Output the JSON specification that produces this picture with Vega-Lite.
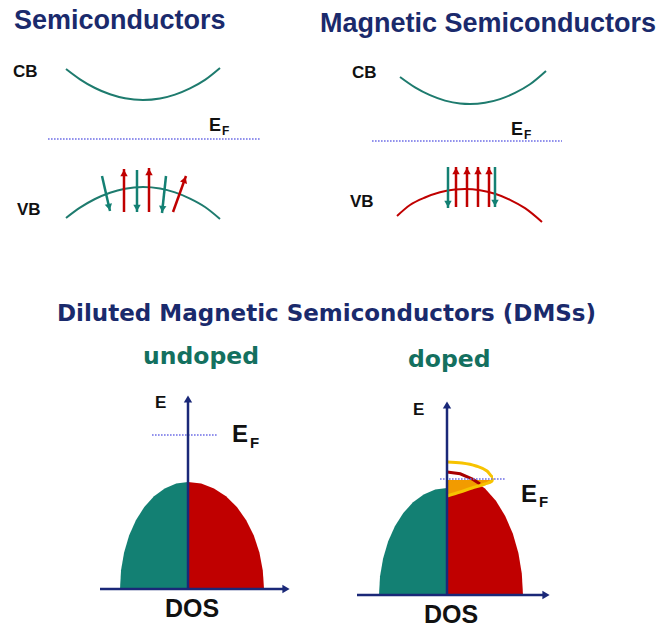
{
  "$schema": "https://vega.github.io/schema/vega-lite/v6.json",
  "width": 656,
  "height": 627,
  "autosize": "none",
  "padding": 0,
  "background": "white",
  "config": {"view": {"stroke": null}, "font": "Liberation Sans"},
  "datasets": {
    "curves": [
      {"curve": "cb1", "spin": "both", "x": 66, "y": 69}, {"curve": "cb1", "spin": "both", "x": 80, "y": 79.3}, {"curve": "cb1", "spin": "both", "x": 95, "y": 88}, {"curve": "cb1", "spin": "both", "x": 110, "y": 94.3}, {"curve": "cb1", "spin": "both", "x": 125, "y": 98.3}, {"curve": "cb1", "spin": "both", "x": 143, "y": 100}, {"curve": "cb1", "spin": "both", "x": 160, "y": 98.5}, {"curve": "cb1", "spin": "both", "x": 175, "y": 94.6}, {"curve": "cb1", "spin": "both", "x": 190, "y": 88.4}, {"curve": "cb1", "spin": "both", "x": 205, "y": 79.9}, {"curve": "cb1", "spin": "both", "x": 220, "y": 68},
      {"curve": "vb1", "spin": "both", "x": 66, "y": 218}, {"curve": "vb1", "spin": "both", "x": 80, "y": 207.7}, {"curve": "vb1", "spin": "both", "x": 95, "y": 199}, {"curve": "vb1", "spin": "both", "x": 110, "y": 192.7}, {"curve": "vb1", "spin": "both", "x": 125, "y": 188.7}, {"curve": "vb1", "spin": "both", "x": 143, "y": 187}, {"curve": "vb1", "spin": "both", "x": 160, "y": 188.5}, {"curve": "vb1", "spin": "both", "x": 175, "y": 192.4}, {"curve": "vb1", "spin": "both", "x": 190, "y": 198.6}, {"curve": "vb1", "spin": "both", "x": 205, "y": 207}, {"curve": "vb1", "spin": "both", "x": 220, "y": 219},
      {"curve": "cb2", "spin": "both", "x": 400, "y": 77}, {"curve": "cb2", "spin": "both", "x": 415, "y": 87.4}, {"curve": "cb2", "spin": "both", "x": 430, "y": 95.2}, {"curve": "cb2", "spin": "both", "x": 445, "y": 100.6}, {"curve": "cb2", "spin": "both", "x": 460, "y": 103.5}, {"curve": "cb2", "spin": "both", "x": 470, "y": 104}, {"curve": "cb2", "spin": "both", "x": 485, "y": 102.8}, {"curve": "cb2", "spin": "both", "x": 500, "y": 99.1}, {"curve": "cb2", "spin": "both", "x": 515, "y": 92.9}, {"curve": "cb2", "spin": "both", "x": 530, "y": 84.3}, {"curve": "cb2", "spin": "both", "x": 546, "y": 71},
      {"curve": "vb2", "spin": "up", "x": 397, "y": 216}, {"curve": "vb2", "spin": "up", "x": 410, "y": 205}, {"curve": "vb2", "spin": "up", "x": 425, "y": 197.5}, {"curve": "vb2", "spin": "up", "x": 440, "y": 192.3}, {"curve": "vb2", "spin": "up", "x": 455, "y": 189.5}, {"curve": "vb2", "spin": "up", "x": 465, "y": 189}, {"curve": "vb2", "spin": "up", "x": 480, "y": 190.2}, {"curve": "vb2", "spin": "up", "x": 495, "y": 193.8}, {"curve": "vb2", "spin": "up", "x": 510, "y": 199.8}, {"curve": "vb2", "spin": "up", "x": 525, "y": 208.2}, {"curve": "vb2", "spin": "up", "x": 542, "y": 222}
    ],
    "arrows": [
      {"spin": "down", "x": 102, "y": 176, "x2": 110, "y2": 211, "hx": 109.1, "hy": 207.1, "a": 167},
      {"spin": "up", "x": 124, "y": 212, "x2": 124, "y2": 169, "hx": 124, "hy": 173, "a": 0},
      {"spin": "down", "x": 137, "y": 170, "x2": 137, "y2": 212, "hx": 137, "hy": 208, "a": 180},
      {"spin": "up", "x": 149, "y": 212, "x2": 149, "y2": 168, "hx": 149, "hy": 172, "a": 0},
      {"spin": "down", "x": 166, "y": 176, "x2": 162, "y2": 213, "hx": 162.4, "hy": 209, "a": 186},
      {"spin": "up", "x": 173, "y": 212, "x2": 186, "y2": 176, "hx": 184.6, "hy": 179.8, "a": 20},
      {"spin": "down", "x": 448, "y": 167, "x2": 448, "y2": 208, "hx": 448, "hy": 204, "a": 180},
      {"spin": "up", "x": 456, "y": 207, "x2": 456, "y2": 167, "hx": 456, "hy": 171, "a": 0},
      {"spin": "up", "x": 467, "y": 207, "x2": 467, "y2": 167, "hx": 467, "hy": 171, "a": 0},
      {"spin": "up", "x": 478, "y": 207, "x2": 478, "y2": 167, "hx": 478, "hy": 171, "a": 0},
      {"spin": "up", "x": 489, "y": 207, "x2": 489, "y2": 167, "hx": 489, "hy": 171, "a": 0},
      {"spin": "down", "x": 495, "y": 167, "x2": 495, "y2": 207, "hx": 495, "hy": 203, "a": 180}
    ],
    "domes": [
      {"dome": "L-down", "spin": "down", "x": 120, "y": 589, "base": 589}, {"dome": "L-down", "spin": "down", "x": 121, "y": 570.4, "base": 589}, {"dome": "L-down", "spin": "down", "x": 124.1, "y": 552.4, "base": 589}, {"dome": "L-down", "spin": "down", "x": 129.1, "y": 535.5, "base": 589}, {"dome": "L-down", "spin": "down", "x": 135.9, "y": 520.2, "base": 589}, {"dome": "L-down", "spin": "down", "x": 144.3, "y": 507, "base": 589}, {"dome": "L-down", "spin": "down", "x": 154, "y": 496.3, "base": 589}, {"dome": "L-down", "spin": "down", "x": 164.7, "y": 488.4, "base": 589}, {"dome": "L-down", "spin": "down", "x": 176.2, "y": 483.6, "base": 589}, {"dome": "L-down", "spin": "down", "x": 188, "y": 482, "base": 589},
      {"dome": "L-up", "spin": "up", "x": 188, "y": 482, "base": 589}, {"dome": "L-up", "spin": "up", "x": 201.2, "y": 483.6, "base": 589}, {"dome": "L-up", "spin": "up", "x": 214, "y": 488.4, "base": 589}, {"dome": "L-up", "spin": "up", "x": 226, "y": 496.3, "base": 589}, {"dome": "L-up", "spin": "up", "x": 236.9, "y": 507, "base": 589}, {"dome": "L-up", "spin": "up", "x": 246.2, "y": 520.2, "base": 589}, {"dome": "L-up", "spin": "up", "x": 253.8, "y": 535.5, "base": 589}, {"dome": "L-up", "spin": "up", "x": 259.4, "y": 552.4, "base": 589}, {"dome": "L-up", "spin": "up", "x": 262.8, "y": 570.4, "base": 589}, {"dome": "L-up", "spin": "up", "x": 264, "y": 589, "base": 589},
      {"dome": "R-down", "spin": "down", "x": 379, "y": 595, "base": 595}, {"dome": "R-down", "spin": "down", "x": 380, "y": 576.4, "base": 595}, {"dome": "R-down", "spin": "down", "x": 383.1, "y": 558.4, "base": 595}, {"dome": "R-down", "spin": "down", "x": 388.1, "y": 541.5, "base": 595}, {"dome": "R-down", "spin": "down", "x": 394.9, "y": 526.2, "base": 595}, {"dome": "R-down", "spin": "down", "x": 403.3, "y": 513, "base": 595}, {"dome": "R-down", "spin": "down", "x": 413, "y": 502.3, "base": 595}, {"dome": "R-down", "spin": "down", "x": 423.7, "y": 494.4, "base": 595}, {"dome": "R-down", "spin": "down", "x": 435.2, "y": 489.6, "base": 595}, {"dome": "R-down", "spin": "down", "x": 447, "y": 488, "base": 595},
      {"dome": "R-up", "spin": "up", "x": 447, "y": 480, "base": 595}, {"dome": "R-up", "spin": "up", "x": 473, "y": 480, "base": 595}, {"dome": "R-up", "spin": "up", "x": 485, "y": 488.5, "base": 595}, {"dome": "R-up", "spin": "up", "x": 495.9, "y": 500.8, "base": 595}, {"dome": "R-up", "spin": "up", "x": 505.2, "y": 515.9, "base": 595}, {"dome": "R-up", "spin": "up", "x": 512.8, "y": 533.5, "base": 595}, {"dome": "R-up", "spin": "up", "x": 518.4, "y": 552.9, "base": 595}, {"dome": "R-up", "spin": "up", "x": 521.8, "y": 573.6, "base": 595}, {"dome": "R-up", "spin": "up", "x": 523, "y": 595, "base": 595}
    ],
    "empty_edge": [
      {"x": 447, "y": 472}, {"x": 460.2, "y": 473.8}, {"x": 473, "y": 479.4}, {"x": 480, "y": 484}
    ],
    "imp_fill": [
      {"x": 447, "y": 496, "ef": 480}, {"x": 460, "y": 492, "ef": 480}, {"x": 472, "y": 488, "ef": 480}, {"x": 485, "y": 484, "ef": 480}, {"x": 491, "y": 480.5, "ef": 480}
    ],
    "imp_edge": [
      {"i": 0, "x": 447, "y": 462}, {"i": 1, "x": 462, "y": 463}, {"i": 2, "x": 476, "y": 466}, {"i": 3, "x": 487, "y": 471}, {"i": 4, "x": 493, "y": 477}, {"i": 5, "x": 492, "y": 481}, {"i": 6, "x": 485, "y": 484}, {"i": 7, "x": 472, "y": 488}, {"i": 8, "x": 460, "y": 492}, {"i": 9, "x": 447, "y": 496}
    ],
    "fermi": [
      {"x": 48, "x2": 260, "y": 139}, {"x": 372, "x2": 562, "y": 141}, {"x": 152, "x2": 217, "y": 435}, {"x": 440, "x2": 506, "y": 479}
    ],
    "axes": [
      {"x": 188, "y": 589, "x2": 188, "y2": 402},
      {"x": 100, "y": 589, "x2": 284, "y2": 589},
      {"x": 447, "y": 595, "x2": 447, "y2": 408},
      {"x": 357, "y": 595, "x2": 544, "y2": 595}
    ],
    "axis_heads": [
      {"x": 188, "y": 399, "a": 0}, {"x": 286, "y": 589, "a": 90}, {"x": 447, "y": 405, "a": 0}, {"x": 546, "y": 595, "a": 90}
    ],
    "titles": [
      {"t": "Semiconductors", "x": 14, "y": 29}, {"t": "Magnetic Semiconductors", "x": 320, "y": 32}
    ],
    "title2": [
      {"t": "Diluted Magnetic Semiconductors (DMSs)", "x": 57, "y": 321}
    ],
    "subtitles": [
      {"t": "undoped", "x": 143, "y": 364}, {"t": "doped", "x": 408, "y": 367}
    ],
    "labels": [
      {"t": "CB", "x": 13, "y": 77}, {"t": "VB", "x": 17, "y": 215}, {"t": "CB", "x": 352, "y": 78}, {"t": "VB", "x": 350, "y": 207},
      {"t": "E", "x": 155, "y": 408}, {"t": "E", "x": 413, "y": 415}
    ],
    "dos": [
      {"t": "DOS", "x": 192, "y": 617}, {"t": "DOS", "x": 451, "y": 623}
    ],
    "ef_big": [{"t": "E", "x": 232, "y": 442}, {"t": "E", "x": 521, "y": 502}],
    "ef_big_sub": [{"t": "F", "x": 250, "y": 448}, {"t": "F", "x": 539, "y": 507}],
    "ef_small": [{"t": "E", "x": 209, "y": 131}, {"t": "E", "x": 511, "y": 135}],
    "ef_small_sub": [{"t": "F", "x": 222, "y": 135}, {"t": "F", "x": 524, "y": 139}]
  },
  "encoding": {
    "x": {"field": "x", "type": "quantitative", "scale": {"domain": [0, 656], "nice": false, "zero": false}, "axis": null},
    "y": {"field": "y", "type": "quantitative", "scale": {"domain": [0, 627], "nice": false, "zero": false, "reverse": true}, "axis": null}
  },
  "layer": [
    {
      "data": {"name": "domes"},
      "mark": {"type": "area", "orient": "vertical", "opacity": 1},
      "encoding": {
        "y2": {"field": "base"},
        "detail": {"field": "dome"},
        "color": {"field": "spin", "type": "nominal", "scale": {"domain": ["up", "down", "both"], "range": ["#c00000", "#138073", "#1e7b6e"]}, "legend": null}
      }
    },
    {
      "data": {"name": "imp_fill"},
      "mark": {"type": "area", "orient": "vertical", "color": "#f29b00"},
      "encoding": {"y2": {"field": "ef"}}
    },
    {
      "data": {"name": "empty_edge"},
      "mark": {"type": "line", "color": "#a80000", "strokeWidth": 3},
      "encoding": {}
    },
    {
      "data": {"name": "imp_edge"},
      "mark": {"type": "line", "color": "#f7c300", "strokeWidth": 3, "interpolate": "monotone"},
      "encoding": {"order": {"field": "i"}}
    },
    {
      "data": {"name": "curves"},
      "mark": {"type": "line", "strokeWidth": 2, "interpolate": "monotone"},
      "encoding": {
        "detail": {"field": "curve"},
        "color": {"field": "spin", "type": "nominal", "legend": null}
      }
    },
    {
      "data": {"name": "arrows"},
      "mark": {"type": "rule", "strokeWidth": 2.5},
      "encoding": {
        "x2": {"field": "x2"}, "y2": {"field": "y2"},
        "color": {"field": "spin", "type": "nominal", "legend": null}
      }
    },
    {
      "data": {"name": "arrows"},
      "mark": {"type": "point", "shape": "triangle-up", "filled": true, "opacity": 1, "size": 55},
      "encoding": {
        "x": {"field": "hx", "type": "quantitative"},
        "y": {"field": "hy", "type": "quantitative"},
        "angle": {"field": "a", "type": "quantitative", "scale": null},
        "color": {"field": "spin", "type": "nominal", "legend": null}
      }
    },
    {
      "data": {"name": "fermi"},
      "mark": {"type": "rule", "color": "#6f6fe6", "strokeWidth": 1.6, "strokeDash": [1.6, 1.4]},
      "encoding": {"x2": {"field": "x2"}}
    },
    {
      "data": {"name": "axes"},
      "mark": {"type": "rule", "color": "#1a2878", "strokeWidth": 2.5},
      "encoding": {"x2": {"field": "x2"}, "y2": {"field": "y2"}}
    },
    {
      "data": {"name": "axis_heads"},
      "mark": {"type": "point", "shape": "triangle-up", "filled": true, "opacity": 1, "size": 70, "color": "#1a2878"},
      "encoding": {"angle": {"field": "a", "type": "quantitative", "scale": null}}
    },
    {
      "data": {"name": "titles"},
      "mark": {"type": "text", "align": "left", "baseline": "alphabetic", "fontSize": 27, "fontWeight": "bold", "color": "#1a2a6c"},
      "encoding": {"text": {"field": "t"}}
    },
    {
      "data": {"name": "title2"},
      "mark": {"type": "text", "align": "left", "baseline": "alphabetic", "font": "DejaVu Sans", "fontSize": 23, "fontWeight": "bold", "color": "#1a2a6c"},
      "encoding": {"text": {"field": "t"}}
    },
    {
      "data": {"name": "subtitles"},
      "mark": {"type": "text", "align": "left", "baseline": "alphabetic", "font": "DejaVu Sans", "fontSize": 23.5, "fontWeight": "bold", "color": "#14705f"},
      "encoding": {"text": {"field": "t"}}
    },
    {
      "data": {"name": "labels"},
      "mark": {"type": "text", "align": "left", "baseline": "alphabetic", "fontSize": 17, "fontWeight": "bold", "color": "#111111"},
      "encoding": {"text": {"field": "t"}}
    },
    {
      "data": {"name": "dos"},
      "mark": {"type": "text", "align": "center", "baseline": "alphabetic", "fontSize": 25, "fontWeight": "bold", "color": "#111111"},
      "encoding": {"text": {"field": "t"}}
    },
    {
      "data": {"name": "ef_big"},
      "mark": {"type": "text", "align": "left", "baseline": "alphabetic", "fontSize": 24, "fontWeight": "bold", "color": "#111111"},
      "encoding": {"text": {"field": "t"}}
    },
    {
      "data": {"name": "ef_big_sub"},
      "mark": {"type": "text", "align": "left", "baseline": "alphabetic", "fontSize": 15, "fontWeight": "bold", "color": "#111111"},
      "encoding": {"text": {"field": "t"}}
    },
    {
      "data": {"name": "ef_small"},
      "mark": {"type": "text", "align": "left", "baseline": "alphabetic", "fontSize": 18, "fontWeight": "bold", "color": "#111111"},
      "encoding": {"text": {"field": "t"}}
    },
    {
      "data": {"name": "ef_small_sub"},
      "mark": {"type": "text", "align": "left", "baseline": "alphabetic", "fontSize": 12, "fontWeight": "bold", "color": "#111111"},
      "encoding": {"text": {"field": "t"}}
    }
  ]
}
